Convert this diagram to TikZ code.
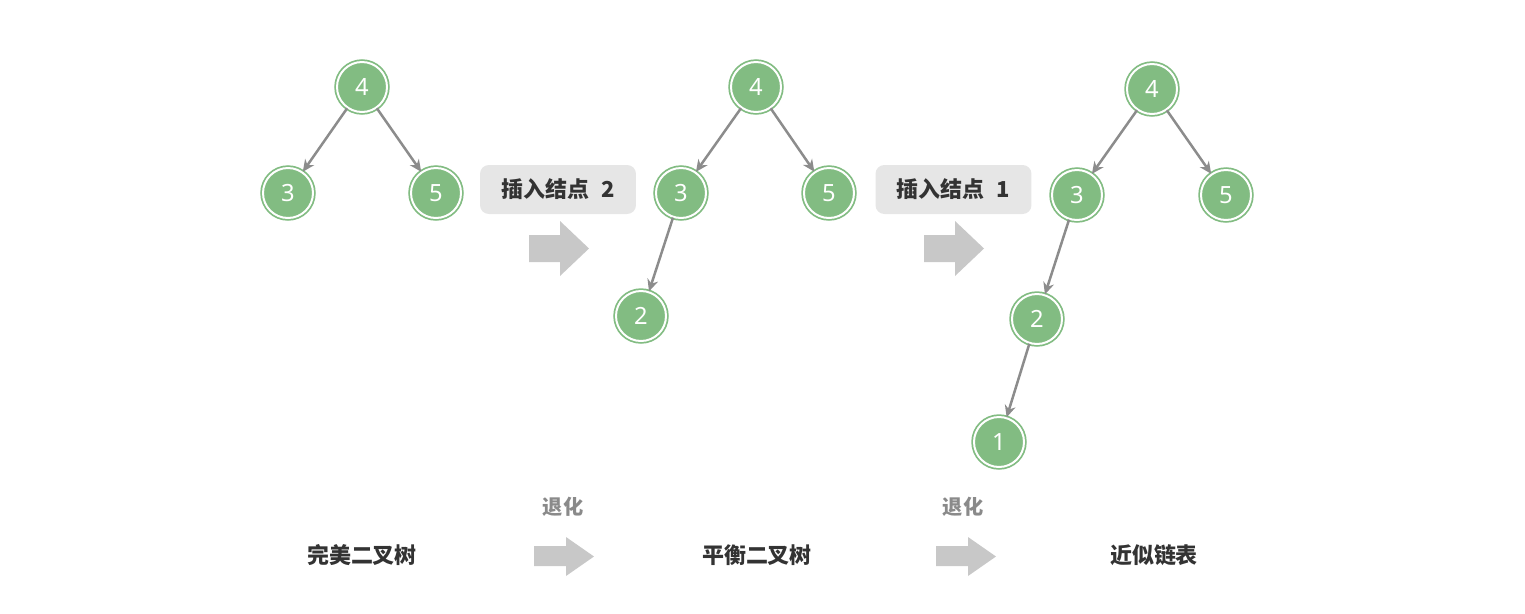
\documentclass[tikz,border=0pt]{standalone}
\usepackage{fontspec}
\usepackage{tikz}
\usepackage{xcolor}
\usetikzlibrary{arrows.meta,positioning}
\setmainfont{Noto Sans}
\newfontfamily\cjk{Noto Sans CJK SC}
\definecolor{TreeGreen}{HTML}{82BC82}
\definecolor{EdgeGray}{HTML}{8C8C8C}
\definecolor{BlockGray}{HTML}{C8C8C8}
\definecolor{SoftGray}{HTML}{E6E6E6}
\definecolor{Ink}{HTML}{333333}
\definecolor{Muted}{HTML}{8A8A8A}

\begin{document}
\begin{tikzpicture}[x=0.02cm,y=-0.02cm,
  tnode/.style={circle,fill=TreeGreen,draw=TreeGreen,double=white,double distance=0.04cm,line width=0.035cm,minimum size=1.0cm,inner sep=0pt,text=white,font=\fontsize{13.5pt}{16pt}\selectfont},
  edge/.style={-{Stealth[length=0.24cm,width=0.22cm]},line width=0.05cm,draw=EdgeGray},
  tag/.style={rounded corners=5pt,fill=SoftGray,minimum width=3.12cm,minimum height=0.98cm,text=Ink,font=\fontsize{12.5pt}{14pt}\selectfont\cjk\bfseries},
  caption/.style={text=Ink,font=\fontsize{12.5pt}{15pt}\selectfont\cjk\bfseries},
  step label/.style={text=Muted,font=\fontsize{11.5pt}{14pt}\selectfont\cjk\bfseries},
  bigarrow/.style={fill=BlockGray}
]
\useasboundingbox (0,0) rectangle (1525,613);
% perfect tree
\node[tnode] (p4) at (362,87) {4};
\node[tnode] (p3) at (288,193) {3};
\node[tnode] (p5) at (436,193) {5};
% balanced tree
\node[tnode] (b4) at (756,87) {4};
\node[tnode] (b3) at (681,193) {3};
\node[tnode] (b5) at (829,193) {5};
\node[tnode] (b2) at (641,316) {2};
% near list
\node[tnode] (l4) at (1152,89) {4};
\node[tnode] (l3) at (1077,195) {3};
\node[tnode] (l5) at (1226,195) {5};
\node[tnode] (l2) at (1037,319) {2};
\node[tnode] (l1) at (999,442) {1};
\foreach \a/\b in {p4/p3,p4/p5,b4/b3,b4/b5,b3/b2,l4/l3,l4/l5,l3/l2,l2/l1} {
  \draw[edge] (\a) -- (\b);
}
% insert steps
\node[tag] (ins2) at (558,189.5) {插入结点\hspace{0.55em}2};
\node[tag] (ins1) at (953.5,189.5) {插入结点\hspace{0.55em}1};
\foreach \x in {529,924} {
  \fill[bigarrow] (\x,235) -- ++(31,0) -- ++(0,-14) -- ++(29,27.5) -- ++(-29,27.5) -- ++(0,-14) -- ++(-31,0) -- cycle;
}
% bottom row
\node[caption] (c1) at (362,555) {完美二叉树};
\node[caption] (c2) at (757,555) {平衡二叉树};
\node[caption] (c3) at (1154,555) {近似链表};
\node[step label] (s1) at (563,507) {退化};
\node[step label] (s2) at (963,507) {退化};
\foreach \x in {534,936} {
  \fill[bigarrow] (\x,546) -- ++(32,0) -- ++(0,-9) -- ++(28,19.5) -- ++(-28,19.5) -- ++(0,-10) -- ++(-32,0) -- cycle;
}
\end{tikzpicture}
\end{document}
